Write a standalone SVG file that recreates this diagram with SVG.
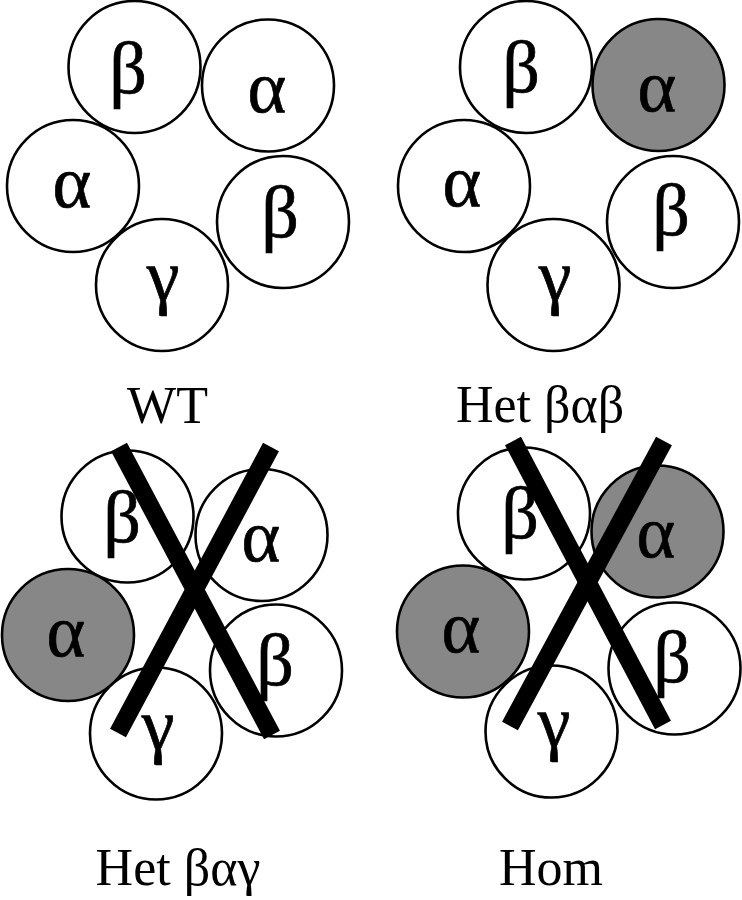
<svg xmlns="http://www.w3.org/2000/svg" width="742" height="900" viewBox="0 0 742 900">
<style>
.c{fill:#fff;stroke:#000;stroke-width:2.6}
.g{fill:#878787;stroke:#000;stroke-width:2.6}
.s{font-family:"Liberation Serif","Times New Roman",serif;font-size:74px;text-anchor:middle;fill:#000;stroke:#000;stroke-width:0.7}
.lb{font-family:"Liberation Serif","Times New Roman",serif;font-size:52px;text-anchor:middle;fill:#000}
.x{stroke:#000;stroke-width:18;stroke-linecap:butt;fill:none}
</style>
<rect width="742" height="900" fill="#fff"/>
<g id="wt">
<circle class="c" cx="134.5" cy="67" r="66"/>
<circle class="c" cx="268" cy="85.5" r="66"/>
<circle class="c" cx="73" cy="186" r="66"/>
<circle class="c" cx="283" cy="222" r="66"/>
<circle class="c" cx="162" cy="285" r="66"/>
<text class="s" x="128" y="93">β</text>
<text class="s" x="267" y="112">α</text>
<text class="s" x="72" y="207">α</text>
<text class="s" x="280" y="237">β</text>
<text class="s" x="163" y="300">γ</text>
<text class="lb" x="167.5" y="423">WT</text>
</g>
<g id="het-bab">
<circle class="c" cx="526" cy="67" r="66"/>
<circle class="g" cx="658.5" cy="85" r="66"/>
<circle class="c" cx="464" cy="186" r="66"/>
<circle class="c" cx="673" cy="222" r="66"/>
<circle class="c" cx="553.5" cy="285" r="66"/>
<text class="s" x="521" y="92">β</text>
<text class="s" x="657" y="111">α</text>
<text class="s" x="462" y="206">α</text>
<text class="s" x="671" y="235">β</text>
<text class="s" x="555" y="300">γ</text>
<text class="lb" x="540" y="422">Het βαβ</text>
</g>
<g id="het-bag">
<circle class="c" cx="127.5" cy="516.5" r="66"/>
<circle class="c" cx="261.5" cy="535" r="66"/>
<circle class="g" cx="68" cy="635" r="66"/>
<circle class="c" cx="276" cy="670.5" r="66"/>
<circle class="c" cx="156" cy="733.5" r="66"/>
<text class="s" x="122" y="542">β</text>
<text class="s" x="261" y="561">α</text>
<text class="s" x="66" y="656">α</text>
<text class="s" x="275" y="685">β</text>
<text class="s" x="158" y="749">γ</text>
<text class="lb" x="178" y="885">Het βαγ</text>
</g>
<g id="hom">
<circle class="c" cx="524" cy="513.5" r="66"/>
<circle class="g" cx="657.5" cy="531.5" r="66"/>
<circle class="g" cx="463" cy="631.5" r="66"/>
<circle class="c" cx="674.5" cy="668.5" r="66"/>
<circle class="c" cx="551.5" cy="731.5" r="66"/>
<text class="s" x="520" y="538">β</text>
<text class="s" x="656" y="557">α</text>
<text class="s" x="461" y="652">α</text>
<text class="s" x="672" y="682">β</text>
<text class="s" x="554" y="746">γ</text>
<text class="lb" x="551" y="885">Hom</text>
</g>
<g id="connectors">
<line class="x" x1="119" y1="447" x2="272" y2="735"/>
<line class="x" x1="271" y1="447" x2="118" y2="733"/>
<line class="x" x1="513" y1="441" x2="663" y2="725"/>
<line class="x" x1="664" y1="441" x2="510" y2="726"/>
</g>
</svg>
